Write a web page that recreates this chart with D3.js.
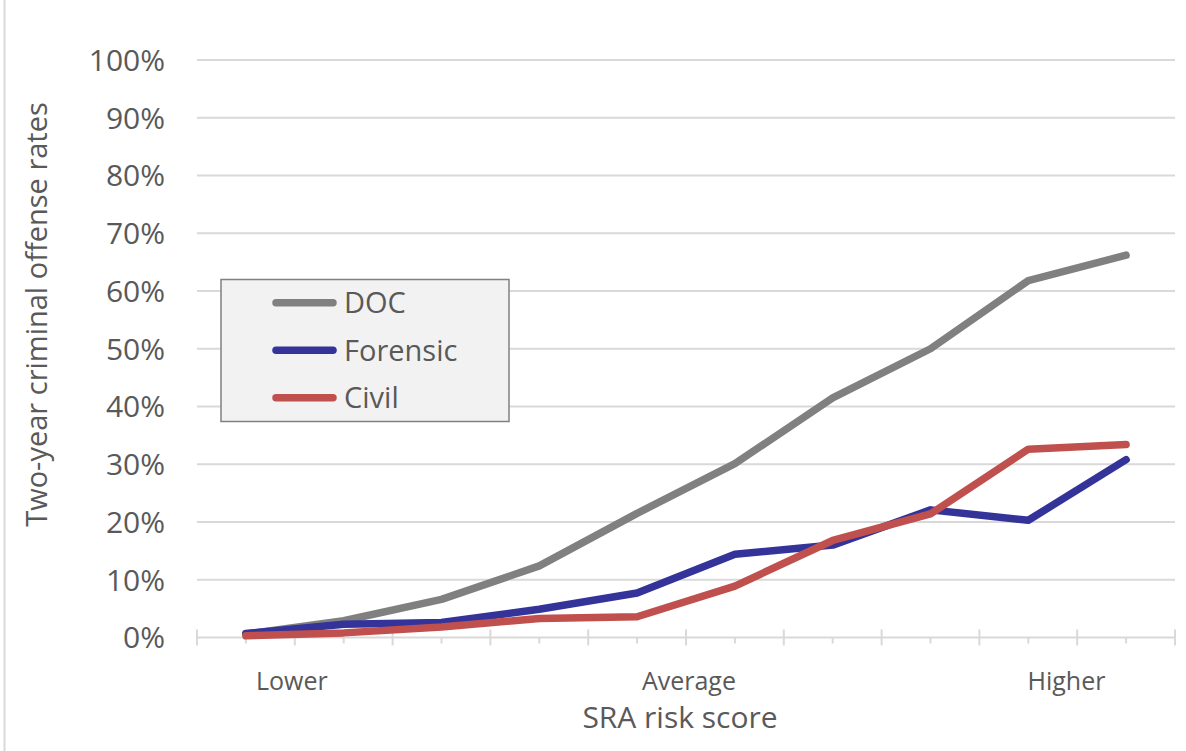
<!DOCTYPE html>
<html>
<head>
<meta charset="utf-8">
<script src="https://cdn.jsdelivr.net/npm/d3@7/dist/d3.min.js"></script>
<style>
  html, body { margin: 0; padding: 0; background: #fff; }
  svg { display: block; font-family: "Open Sans", "Noto Sans", sans-serif; }
</style>
</head>
<body>
<svg id="chart" width="1186" height="751"></svg>
<script>
// ---- data ----
const categories = ["1","2","3","4","5","6","7","8","9","10"];
const docValues      = [0.6, 2.9, 6.6, 12.4, 21.5, 30.1, 41.5, 50.0, 61.8, 66.2];
const forensicValues = [0.7, 2.3, 2.6, 4.9, 7.7, 14.4, 16.0, 22.1, 20.3, 30.8];
const civilValues    = [0.3, 0.8, 1.8, 3.3, 3.6, 8.9, 16.8, 21.4, 32.6, 33.4];
const seriesNames = ["DOC", "Forensic", "Civil"];
const yTicks = [0, 10, 20, 30, 40, 50, 60, 70, 80, 90, 100];
const xLabels = ["Lower", "Average", "Higher"];
const xLabelAt = [0.97, 5.03, 8.89];   // position along category axis (in category units)
const xTitle = "SRA risk score";
const yTitle = "Two-year criminal offense rates";

// ---- styles ----
const colors = { "DOC": "#808080", "Forensic": "#333399", "Civil": "#c0504d" };
const textColor = "#595959";
const gridColor = "#d9d9d9";

const svg = d3.select("#chart");

// outer border (chart area edge)
svg.append("line").attr("x1", 4.5).attr("x2", 4.5).attr("y1", 0).attr("y2", 751)
  .attr("stroke", gridColor).attr("stroke-width", 2);

const x = d3.scaleLinear().domain([0, categories.length]).range([197, 1175]);
const y = d3.scaleLinear().domain([0, 100]).range([637.5, 60]);

// gridlines
svg.append("g").selectAll("line").data(yTicks.filter(d => d > 0)).join("line")
  .attr("x1", x(0)).attr("x2", x(categories.length))
  .attr("y1", d => y(d)).attr("y2", d => y(d))
  .attr("stroke", gridColor).attr("stroke-width", 2);

// y tick labels
svg.append("g").selectAll("text").data(yTicks).join("text")
  .attr("x", 165).attr("y", d => y(d)).attr("dy", "0.36em")
  .attr("text-anchor", "end").attr("fill", textColor)
  .style("font-size", "30px")
  .text(d => d + "%");

// x axis baseline
svg.append("line").attr("x1", x(0)).attr("x2", x(categories.length))
  .attr("y1", y(0)).attr("y2", y(0)).attr("stroke", gridColor).attr("stroke-width", 2);

// major ticks (category boundaries) and minor ticks (category centers)
const major = d3.range(0, categories.length + 1);
svg.append("g").selectAll("line").data(major).join("line")
  .attr("x1", d => x(d)).attr("x2", d => x(d))
  .attr("y1", y(0) - 8).attr("y2", y(0) + 8)
  .attr("stroke", gridColor).attr("stroke-width", 2);
svg.append("g").selectAll("line").data(categories.map((c, i) => i + 0.5)).join("line")
  .attr("x1", d => x(d)).attr("x2", d => x(d))
  .attr("y1", y(0)).attr("y2", y(0) + 6)
  .attr("stroke", gridColor).attr("stroke-width", 2);

// x labels
svg.append("g").selectAll("text").data(xLabels).join("text")
  .attr("x", (d, i) => x(xLabelAt[i])).attr("y", 690)
  .attr("text-anchor", "middle").attr("fill", textColor)
  .style("font-size", "25px")
  .text(d => d);

// axis titles
svg.append("text").attr("x", x(5.0) - 6).attr("y", 728)
  .attr("text-anchor", "middle").attr("fill", textColor)
  .style("font-size", "30px").text(xTitle);
svg.append("text")
  .attr("transform", `translate(47, ${(101 + 528) / 2}) rotate(-90)`)
  .attr("text-anchor", "middle").attr("fill", textColor)
  .style("font-size", "29px").text(yTitle);

// lines
const seriesData = [docValues, forensicValues, civilValues];
const line = d3.line().x((d, i) => x(i + 0.5)).y(d => y(d));
svg.append("g").selectAll("path").data(seriesData).join("path")
  .attr("d", d => line(d))
  .attr("fill", "none")
  .attr("stroke", (d, i) => colors[seriesNames[i]])
  .attr("stroke-width", 7.5)
  .attr("stroke-linejoin", "round")
  .attr("stroke-linecap", "round");

// legend
const lg = svg.append("g");
lg.append("rect").attr("x", 221).attr("y", 279.5).attr("width", 288).attr("height", 142)
  .attr("fill", "#f2f2f2").attr("stroke", "#808080").attr("stroke-width", 1.5);
const items = lg.selectAll("g.item").data(seriesNames).join("g")
  .attr("transform", (d, i) => `translate(0, ${302.7 + i * 47.5})`);
items.append("line").attr("x1", 276).attr("x2", 333).attr("y1", 0).attr("y2", 0)
  .attr("stroke", d => colors[d]).attr("stroke-width", 7.5).attr("stroke-linecap", "round");
items.append("text").attr("x", 344).attr("y", 0).attr("dy", "0.36em")
  .attr("fill", textColor).style("font-size", "29px").text(d => d);
</script>
</body>
</html>
